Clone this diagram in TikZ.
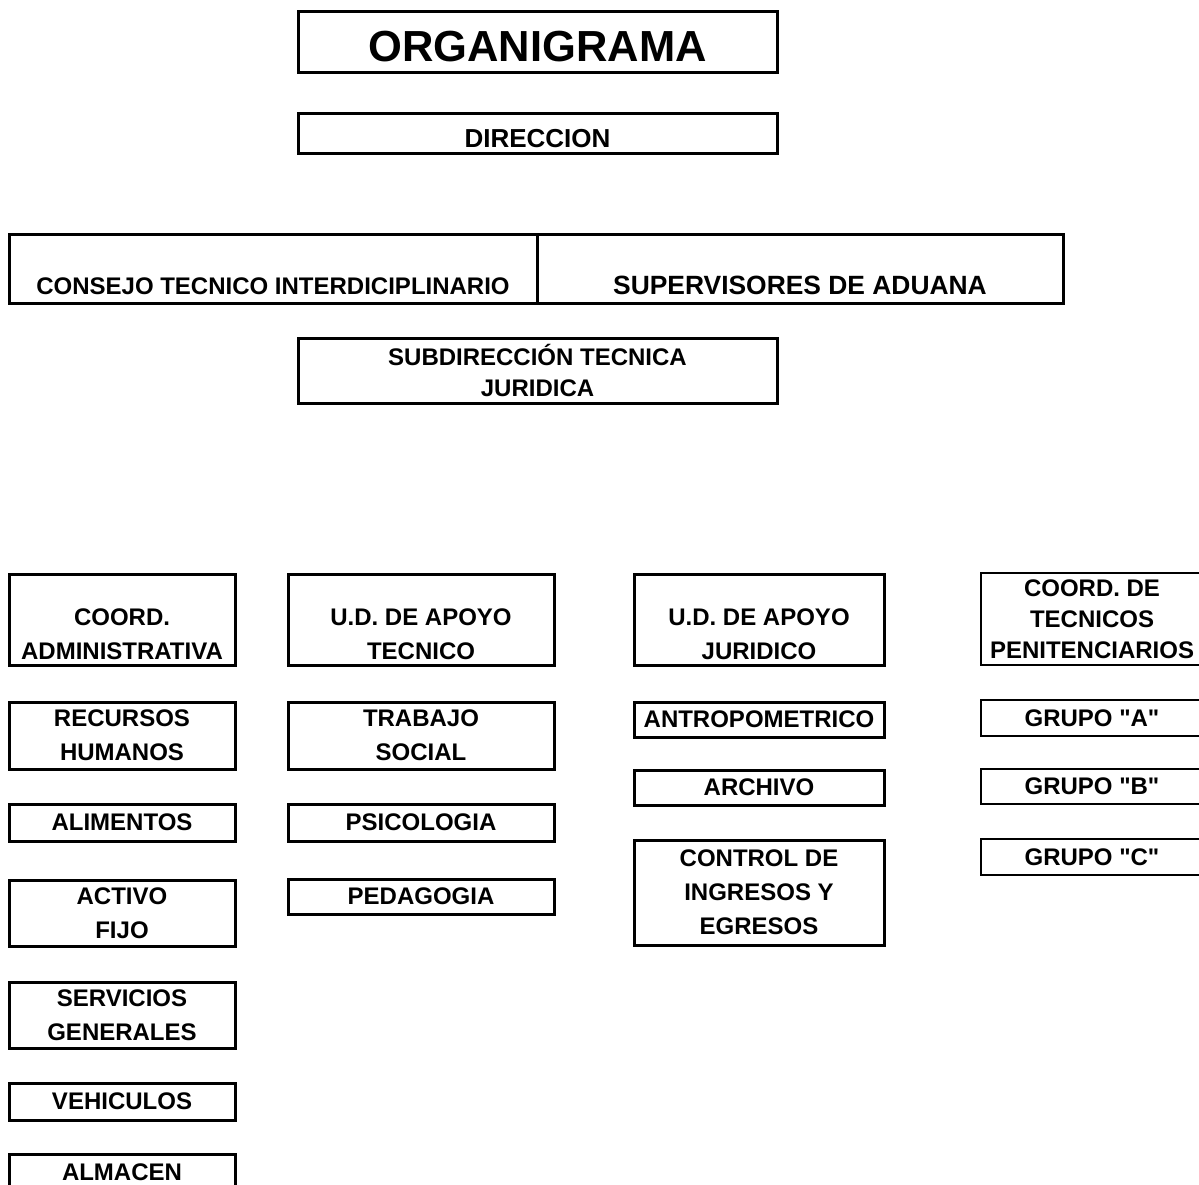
\documentclass[tikz,border=0pt]{standalone}
\usepackage{fontspec}
\newfontfamily\orgfont{Liberation Sans}
\usetikzlibrary{positioning}

\begin{document}
\begin{tikzpicture}[
    x=1pt, y=-1pt,
    box/.style={draw, line width=3pt, inner sep=0pt, outer sep=0pt, align=center,
      anchor=north, font=\orgfont\bfseries\fontsize{24}{34}\selectfont},
    thinbox/.style={box, line width=2pt},
    wide/.style={box, minimum width=479pt},
    colA/.style={box, minimum width=226pt},
    colB/.style={box, minimum width=266pt},
    colC/.style={box, minimum width=250pt},
    colD/.style={thinbox, minimum width=222pt},
]
\useasboundingbox (0,0) rectangle (1199,1185);
\clip (0,0) rectangle (1199,1185);

% cabecera
\node[wide, minimum height=61pt, text height=38.1pt, text depth=0pt,
  font=\orgfont\bfseries\fontsize{43.5}{50}\selectfont] (titulo) at (537.5,12) {ORGANIGRAMA};
\node[wide, minimum height=40pt, text height=26.6pt, text depth=0pt,
  font=\orgfont\bfseries\fontsize{26}{34}\selectfont, below=41pt of titulo] (direccion) {DIRECCION};

\node[box, minimum width=528pt, minimum height=69pt, text height=51.2pt, text depth=0pt] (consejo) at (273,234) {CONSEJO TECNICO INTERDICIPLINARIO};
\node[box, minimum width=526pt, minimum height=69pt, text height=52.6pt, text depth=0pt,
  font=\orgfont\bfseries\fontsize{26.4}{34}\selectfont, right=0pt of consejo] (supervisores) {SUPERVISORES DE ADUANA};

\node[wide, minimum height=65pt, font=\orgfont\bfseries\fontsize{24}{31}\selectfont] (subdireccion) at (537.5,338) {SUBDIRECCIÓN TECNICA\\JURIDICA};

% columna administrativa
\node[colA, minimum height=91pt, text height=79.2pt, text depth=0pt] (coordadm) at (122,574) {COORD.\\ADMINISTRATIVA};
\node[colA, minimum height=67pt, below=37pt of coordadm] (rrhh) {RECURSOS\\HUMANOS};
\node[colA, minimum height=37pt, below=35pt of rrhh] (alimentos) {ALIMENTOS};
\node[colA, minimum height=66pt, below=39pt of alimentos] (activo) {ACTIVO\\FIJO};
\node[colA, minimum height=66pt, below=36pt of activo] (servicios) {SERVICIOS\\GENERALES};
\node[colA, minimum height=37pt, below=35pt of servicios] (vehiculos) {VEHICULOS};
\node[colA, minimum height=37pt, below=34pt of vehiculos] (almacen) {ALMACEN};

% columna apoyo tecnico
\node[colB, minimum height=91pt, text height=79.2pt, text depth=0pt] (apoyotec) at (421,574) {U.D. DE APOYO\\TECNICO};
\node[colB, minimum height=67pt, below=37pt of apoyotec] (trabajo) {TRABAJO\\SOCIAL};
\node[colB, minimum height=37pt, below=35pt of trabajo] (psicologia) {PSICOLOGIA};
\node[colB, minimum height=35pt, below=38pt of psicologia] (pedagogia) {PEDAGOGIA};

% columna apoyo juridico
\node[colC, minimum height=91pt, text height=79.2pt, text depth=0pt] (apoyojur) at (759,574) {U.D. DE APOYO\\JURIDICO};
\node[colC, minimum height=35pt, below=37pt of apoyojur] (antropo) {ANTROPOMETRICO};
\node[colC, minimum height=35pt, below=33pt of antropo] (archivo) {ARCHIVO};
\node[colC, minimum height=105pt, below=35pt of archivo] (control) {CONTROL DE\\INGRESOS Y\\EGRESOS};

% columna tecnicos penitenciarios
\node[colD, minimum height=92pt, font=\orgfont\bfseries\fontsize{24}{31}\selectfont] (coordtec) at (1092,573) {COORD. DE\\TECNICOS\\PENITENCIARIOS};
\node[colD, minimum height=36pt, below=35pt of coordtec] (grupoA) {GRUPO "A"};
\node[colD, minimum height=35pt, below=33pt of grupoA] (grupoB) {GRUPO "B"};
\node[colD, minimum height=36pt, below=35pt of grupoB] (grupoC) {GRUPO "C"};
\end{tikzpicture}
\end{document}
